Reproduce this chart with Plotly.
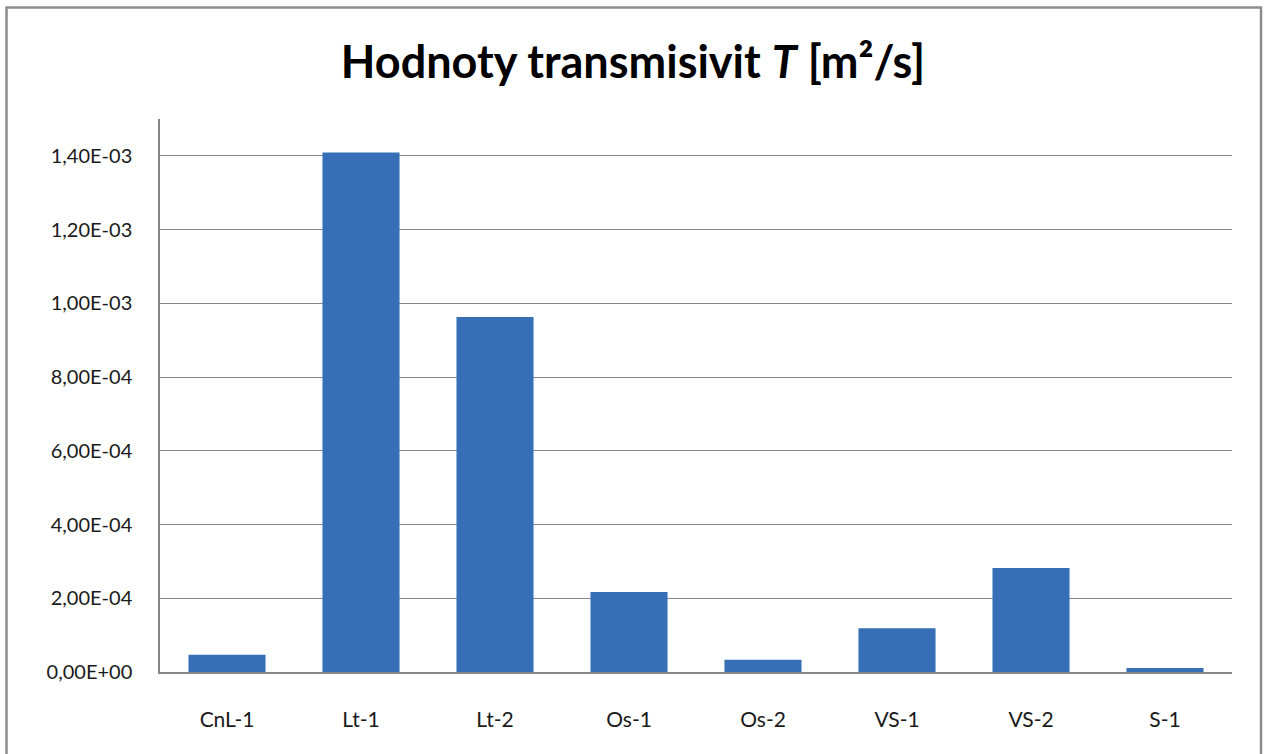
import plotly.graph_objects as go

categories = ["CnL-1", "Lt-1", "Lt-2", "Os-1", "Os-2", "VS-1", "VS-2", "S-1"]
values = [4.7e-5, 1.409e-3, 9.63e-4, 2.17e-4, 3.3e-5, 1.19e-4, 2.82e-4, 1.1e-5]
tick_vals = [0, 2e-4, 4e-4, 6e-4, 8e-4, 1.0e-3, 1.2e-3, 1.4e-3]
tick_text = ["0,00E+00", "2,00E-04", "4,00E-04", "6,00E-04", "8,00E-04",
             "1,00E-03", "1,20E-03", "1,40E-03"]
title_text = "Hodnoty transmisivit <i>T</i> [m²/s]"

W, H = 1266, 754
L, R, T, B = 160, 34, 119, 82

fig = go.Figure(go.Bar(
    x=categories, y=values,
    marker=dict(color="#366fb6", line=dict(width=0)),
))

axis_grey = "#868686"
fig.update_layout(
    width=W, height=H,
    margin=dict(l=L, r=R, t=T, b=B),
    paper_bgcolor="white", plot_bgcolor="white",
    bargap=0.425,
    showlegend=False,
    title=dict(text=title_text, x=0.5, xref="container", xanchor="center",
               y=1 - 62 / H, yref="container", yanchor="middle",
               font=dict(family="Lato", size=45, color="black", weight="bold")),
    font=dict(family="Lato", color="#1a1a1a"),
)
fig.update_xaxes(
    showline=True, linecolor=axis_grey, linewidth=1.5,
    ticks="", ticklabelstandoff=28,
    tickfont=dict(size=21, family="Lato", color="#1a1a1a"),
    showgrid=False,
)
fig.update_yaxes(
    range=[0, 1.5e-3], tickvals=tick_vals, ticktext=tick_text,
    showline=True, linecolor=axis_grey, linewidth=1.5,
    showgrid=True, gridcolor=axis_grey, gridwidth=1.2,
    zeroline=False, ticks="", ticklabelstandoff=22,
    tickfont=dict(size=20, family="Lato", color="#1a1a1a"),
)

pw, ph = W - L - R, H - T - B
def px_x(p):
    return (p - L) / pw
def px_y(p):
    return (H - B - p) / ph

fig.add_shape(type="path", xref="paper", yref="paper",
              path=f"M {px_x(6.5)},{px_y(760)} L {px_x(6.5)},{px_y(7.5)} "
                   f"L {px_x(1261)},{px_y(7.5)} L {px_x(1261)},{px_y(760)}",
              line=dict(color="#8c8c8c", width=2.5), layer="above")

fig.write_html("out.html", config={"displayModeBar": False},
               post_script="document.body.style.margin='0';document.body.style.overflow='hidden';")
